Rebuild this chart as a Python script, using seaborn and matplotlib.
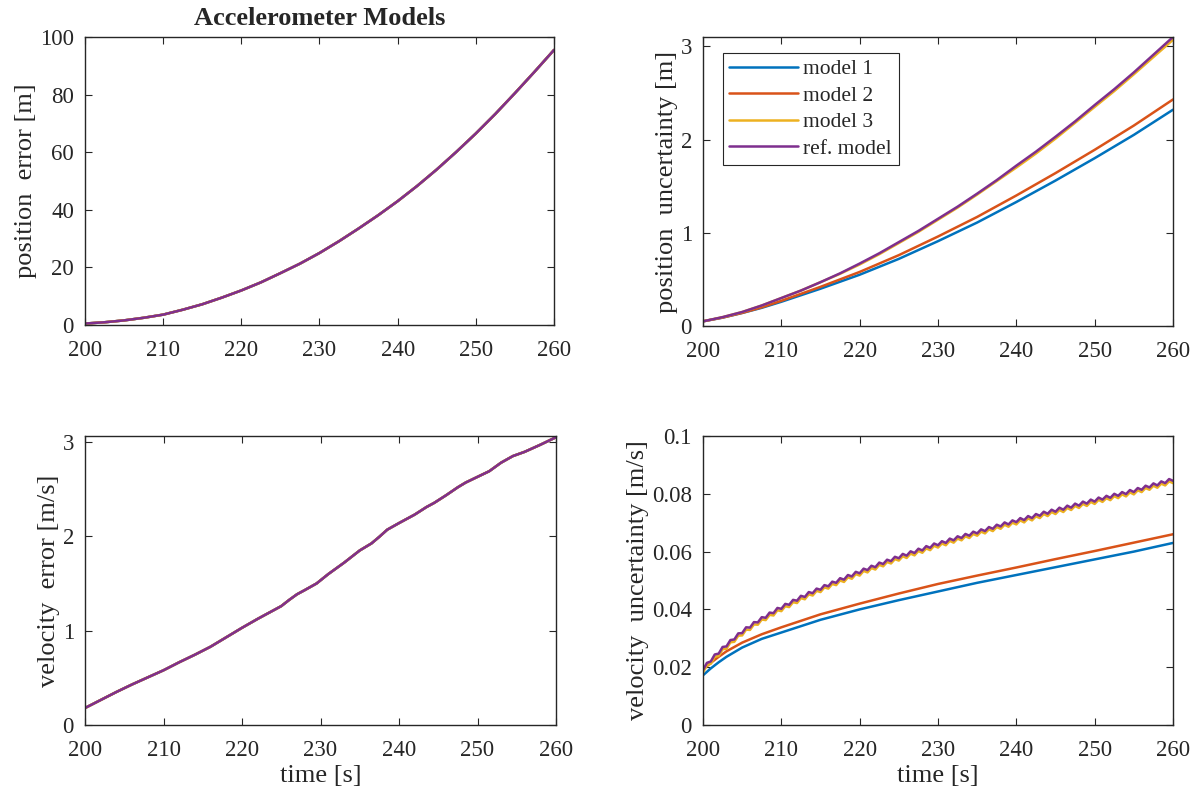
import numpy as np
import pandas as pd
import matplotlib
matplotlib.use("Agg")
import matplotlib.pyplot as plt
import seaborn as sns

# ---------------- data ----------------
models = ["model 1", "model 2", "model 3", "ref. model"]
colors = ["#0072BD", "#D95319", "#EDB120", "#7E2F8E"]

t25 = [200, 202.5, 205, 207.5, 210, 212.5, 215, 217.5, 220, 222.5, 225, 227.5, 230,
       232.5, 235, 237.5, 240, 242.5, 245, 247.5, 250, 252.5, 255, 257.5, 260]

# position error [m] (all models practically identical)
pos_err = [0.5, 0.95, 1.6, 2.5, 3.6, 5.3, 7.2, 9.5, 12.0, 14.8, 18.0, 21.3, 25.0,
           29.1, 33.5, 38.1, 43.0, 48.3, 54.0, 60.1, 66.5, 73.3, 80.5, 87.9, 95.5]

# position uncertainty [m]
pos_unc_m1 = [.05, .09, .14, .195, .26, .33, .40, .475, .55, .635, .72, .815, .91,
              1.01, 1.11, 1.22, 1.33, 1.445, 1.56, 1.68, 1.80, 1.925, 2.05, 2.185, 2.32]
pos_unc_m2 = [.05, .09, .14, .20, .27, .345, .42, .50, .58, .67, .76, .86, .96,
              1.065, 1.17, 1.285, 1.40, 1.52, 1.64, 1.765, 1.89, 2.02, 2.15, 2.29, 2.43]
pos_unc_m3 = [.05, .095, .15, .22, .30, .38, .47, .56, .66, .77, .89, 1.01, 1.14,
              1.27, 1.41, 1.555, 1.70, 1.85, 2.01, 2.18, 2.35, 2.52, 2.70, 2.885, 3.07]
pos_unc_ref = [.05, .095, .15, .22, .30, .38, .47, .565, .67, .78, .90, 1.02, 1.15,
               1.28, 1.42, 1.565, 1.72, 1.87, 2.03, 2.195, 2.37, 2.54, 2.72, 2.91, 3.10]

# velocity error [m/s]
vel_err_t = [200, 202, 204, 206, 208, 210, 212, 214, 216, 218, 220, 222, 224, 225,
             226, 227, 228, 229.5, 231, 233, 235, 236.5, 237.5, 238.5, 240, 242,
             243.5, 244.5, 246, 247.5, 248.5, 250, 251.5, 253, 254.5, 256, 258, 260]
vel_err = [0.18, 0.265, 0.35, 0.43, 0.505, 0.58, 0.665, 0.745, 0.83, 0.93, 1.03, 1.125, 1.215, 1.26,
           1.325, 1.385, 1.43, 1.50, 1.60, 1.72, 1.85, 1.925, 1.995, 2.07, 2.14, 2.23,
           2.31, 2.355, 2.435, 2.52, 2.57, 2.63, 2.69, 2.78, 2.85, 2.895, 2.97, 3.05]

# velocity uncertainty [m/s]
vel_unc_t = [200, 201, 202, 203, 205, 207.5, 210, 215, 220, 225, 230, 235, 240, 245, 250, 255, 260]
vel_unc_m1 = [0.0172, 0.0196, 0.0217, 0.0236, 0.0268, 0.0298, 0.0320, 0.0364, 0.0400, 0.0432,
              0.0462, 0.0492, 0.0519, 0.0546, 0.0573, 0.0600, 0.0630]
vel_unc_m2 = [0.0192, 0.0215, 0.0236, 0.0255, 0.0285, 0.0314, 0.0338, 0.0383, 0.0420, 0.0455,
              0.0488, 0.0517, 0.0545, 0.0574, 0.0602, 0.0631, 0.0660]

# sawtooth curves: troughs at whole seconds, peaks at half seconds
ref_trough = [.0190, .0220, .0247, .0272, .0296, .0318, .0337, .0355, .0371, .0387,
              .0402, .0416, .0430, .0443, .0456, .0468, .0480, .0492, .0503, .0514,
              .0525, .0536, .0546, .0557, .0567, .0577, .0586, .0595, .0604, .0613,
              .0622, .0630, .0639, .0647, .0655, .0663, .0671, .0679, .0687, .0694,
              .0702, .0709, .0716, .0724, .0731, .0738, .0745, .0752, .0759, .0766,
              .0773, .0780, .0786, .0793, .0799, .0806, .0814, .0822, .0829, .0837,
              .0845]
ref_peak = [.0215, .0244, .0270, .0294, .0317, .0338, .0356, .0373, .0389, .0405,
            .0419, .0433, .0447, .0460, .0472, .0484, .0496, .0508, .0519, .0530,
            .0541, .0551, .0562, .0572, .0582, .0592, .0601, .0610, .0619, .0628,
            .0636, .0645, .0653, .0661, .0669, .0677, .0685, .0693, .0701, .0708,
            .0716, .0723, .0730, .0738, .0745, .0752, .0759, .0766, .0773, .0780,
            .0787, .0793, .0800, .0806, .0813, .0820, .0828, .0836, .0843, .0851]
m3_trough = [.0182, .0212, .0239, .0264, .0288, .0310, .0329, .0347, .0363, .0379,
             .0394, .0408, .0422, .0435, .0448, .0460, .0472, .0484, .0495, .0506,
             .0517, .0528, .0538, .0549, .0559, .0569, .0578, .0587, .0596, .0605,
             .0614, .0622, .0631, .0639, .0647, .0655, .0663, .0671, .0679, .0686,
             .0694, .0701, .0708, .0716, .0723, .0730, .0737, .0744, .0751, .0758,
             .0765, .0772, .0778, .0785, .0791, .0798, .0806, .0814, .0821, .0829,
             .0837]
m3_peak = [.0207, .0236, .0262, .0286, .0309, .0330, .0348, .0365, .0381, .0397,
           .0411, .0425, .0439, .0452, .0464, .0476, .0488, .0500, .0511, .0522,
           .0533, .0543, .0554, .0564, .0574, .0584, .0593, .0602, .0611, .0620,
           .0628, .0637, .0645, .0653, .0661, .0669, .0677, .0685, .0693, .0700,
           .0708, .0715, .0722, .0730, .0737, .0744, .0751, .0758, .0765, .0772,
           .0779, .0785, .0792, .0798, .0805, .0812, .0820, .0828, .0835, .0843]

x_ticks = [200, 210, 220, 230, 240, 250, 260]
title_text = "Accelerometer Models"

# ---------------- style ----------------
sns.set_style("ticks")
plt.rcParams["font.family"] = ["Liberation Serif", "DejaVu Serif"]
plt.rcParams.update({
    "font.size": 16,
    "axes.edgecolor": "#262626",
    "axes.linewidth": 1.0,
    "xtick.direction": "in",
    "ytick.direction": "in",
    "xtick.top": True,
    "ytick.right": True,
    "xtick.major.size": 5,
    "ytick.major.size": 5,
    "xtick.color": "#262626",
    "ytick.color": "#262626",
    "xtick.labelsize": 16.5,
    "ytick.labelsize": 16.5,
    "xtick.major.pad": 11,
    "ytick.major.pad": 8,
})

fig = plt.figure(figsize=(11.96, 7.98), dpi=100)
W, H = 1196, 798
def place(x0, x1, y0, y1):
    return fig.add_axes([x0 / W, 1 - y1 / H, (x1 - x0) / W, (y1 - y0) / H])

ax_pe = place(85, 554, 37, 325)
ax_pu = place(703, 1173, 37, 326)
ax_ve = place(85, 556, 436, 725)
ax_vu = place(703, 1173, 436, 725)

lw = 1.8

def interleave(tr, pk):
    tt, vv = [], []
    for i in range(len(pk)):
        tt += [200 + i, 200 + i + 0.5]
        vv += [tr[i], pk[i]]
    tt.append(200 + len(pk))
    vv.append(tr[len(pk)])
    return tt, vv

# position error
for m, c in zip(models, colors):
    sns.lineplot(x=t25, y=pos_err, ax=ax_pe, color=c, linewidth=lw, legend=False)

# position uncertainty
for m, c, vals in zip(models, colors, [pos_unc_m1, pos_unc_m2, pos_unc_m3, pos_unc_ref]):
    sns.lineplot(x=t25, y=vals, ax=ax_pu, color=c, linewidth=lw, label=m)

# velocity error
for m, c in zip(models, colors):
    sns.lineplot(x=vel_err_t, y=vel_err, ax=ax_ve, color=c, linewidth=lw, legend=False)

# velocity uncertainty
sns.lineplot(x=vel_unc_t, y=vel_unc_m1, ax=ax_vu, color=colors[0], linewidth=lw)
sns.lineplot(x=vel_unc_t, y=vel_unc_m2, ax=ax_vu, color=colors[1], linewidth=lw)
tt3, vv3 = interleave(m3_trough, m3_peak)
sns.lineplot(x=tt3, y=vv3, ax=ax_vu, color=colors[2], linewidth=lw)
ttr, vvr = interleave(ref_trough, ref_peak)
sns.lineplot(x=ttr, y=vvr, ax=ax_vu, color=colors[3], linewidth=lw)

for ax in [ax_pe, ax_pu, ax_ve, ax_vu]:
    ax.set_xlim(200, 260)
    ax.set_xticks(x_ticks)
    for s in ax.spines.values():
        s.set_visible(True)
        s.set_color("#262626")

ax_pe.set_ylim(0, 100)
ax_pe.set_yticks([0, 20, 40, 60, 80, 100])
ax_pu.set_ylim(0, 3.1)
ax_pu.set_yticks([0, 1, 2, 3])
ax_ve.set_ylim(0, 3.063)
ax_ve.set_yticks([0, 1, 2, 3])
ax_vu.set_ylim(0, 0.1)
ax_vu.set_yticks([0, 0.02, 0.04, 0.06, 0.08, 0.1])
ax_vu.set_yticklabels(["0", "0.02", "0.04", "0.06", "0.08", "0.1"])

lab = dict(fontsize=19)
ax_pe.set_ylabel("position  error [m]", labelpad=2, **lab)
ax_pu.set_ylabel("position  uncertainty [m]", labelpad=2, **lab)
ax_ve.set_ylabel("velocity  error [m/s]", labelpad=2, **lab)
ax_vu.set_ylabel("velocity  uncertainty [m/s]", labelpad=2, **lab)
for ax in [ax_pe, ax_pu]:
    ax.set_xlabel("")
ax_ve.set_xlabel("time [s]", labelpad=3, **lab)
ax_vu.set_xlabel("time [s]", labelpad=3, **lab)
ax_pe.set_title(title_text, fontsize=19, fontweight="bold", pad=9)

leg = ax_pu.legend(loc="upper left", bbox_to_anchor=(0.042, 0.945), frameon=True,
                   fancybox=False, edgecolor="#262626", framealpha=1, fontsize=15.5,
                   handlelength=3.2, handletextpad=0.25, labelspacing=0.3,
                   borderpad=0.3, borderaxespad=0)
leg.get_frame().set_linewidth(0.8)

fig.savefig("out.png", dpi=100)
